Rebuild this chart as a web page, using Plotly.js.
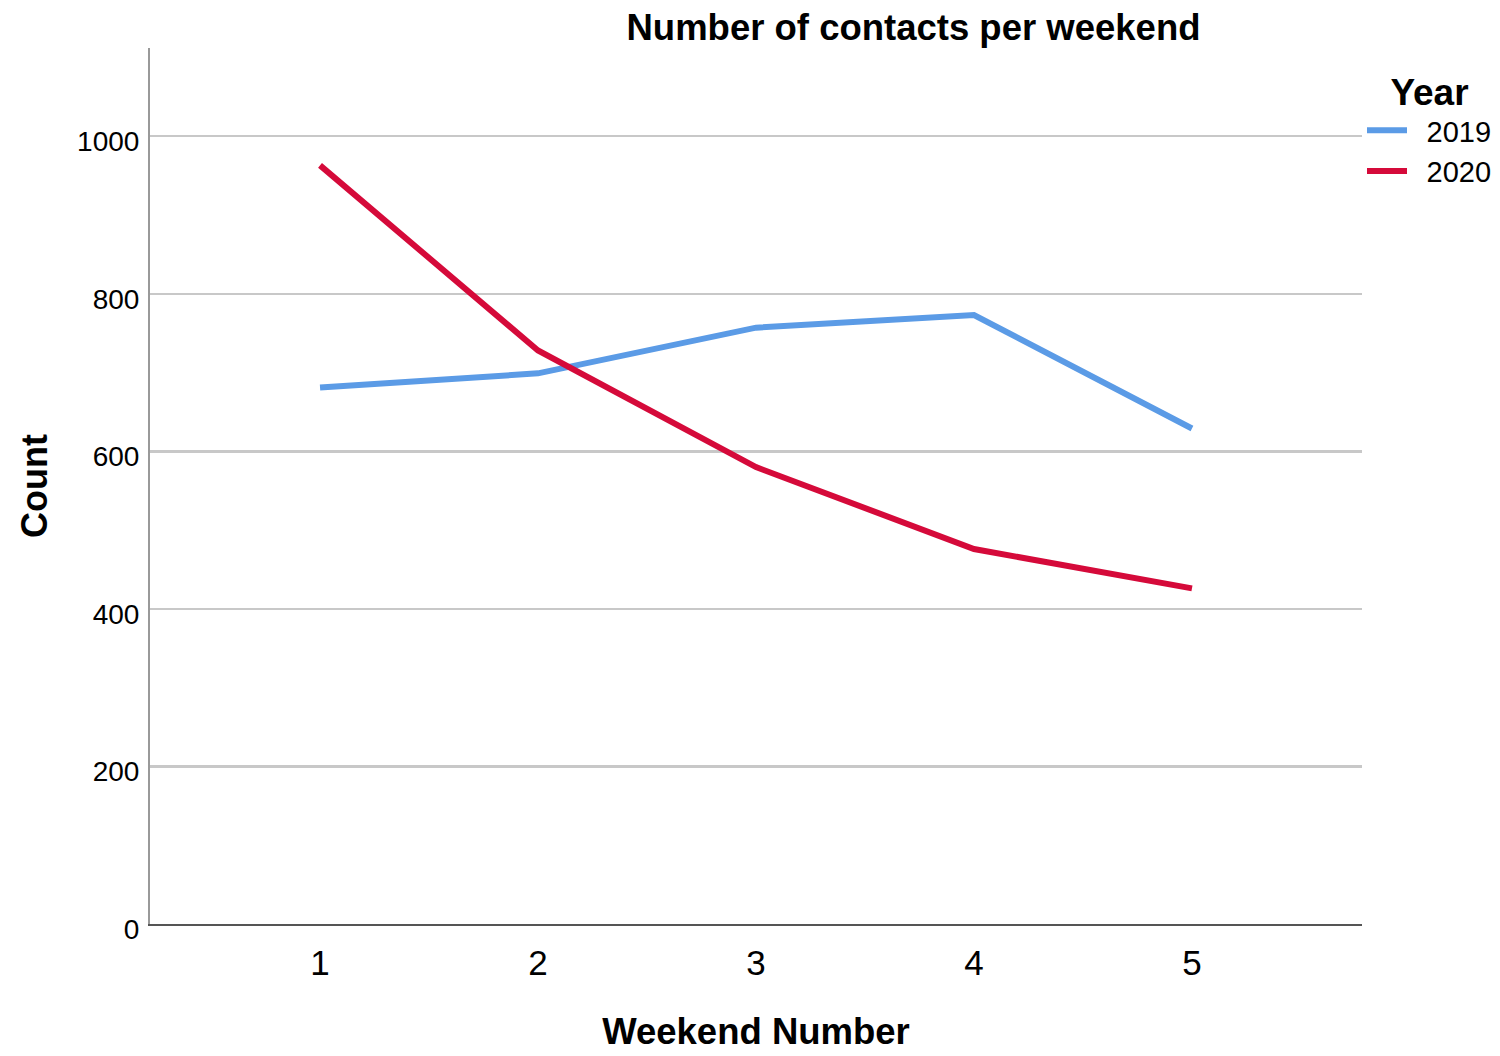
<!DOCTYPE html>
<html>
<head>
<meta charset="utf-8">
<script src="https://cdn.plot.ly/plotly-3.0.1.min.js"></script>
<style>
  html, body { margin: 0; padding: 0; background: #fff; }
  #chart { width: 1500px; height: 1056px; }
</style>
</head>
<body>
<div id="chart"></div>
<script>
// weekend numbers and counts
var weekends = [1, 2, 3, 4, 5];
var counts2019 = [681, 699, 757, 773, 629];
var counts2020 = [963, 728, 580, 476, 426];
var yTicks = [0, 200, 400, 600, 800, 1000];

var font = 'Liberation Sans, Arial, sans-serif';

var data = [
    {
        x: weekends, y: counts2019,
        mode: 'lines',
        name: '\u20022019',
        line: { color: '#5b9be6', width: 6 },
        type: 'scatter'
    },
    {
        x: weekends, y: counts2020,
        mode: 'lines',
        name: '\u20022020',
        line: { color: '#d50a3a', width: 6 },
        type: 'scatter'
    }
];

var layout = {
    width: 1500,
    height: 1056,
    paper_bgcolor: '#ffffff',
    plot_bgcolor: '#ffffff',
    font: { family: font, color: '#000' },
    margin: { l: 150, r: 138, t: 48, b: 132, autoexpand: false },
    title: {
        text: '<b>Number of contacts per weekend</b>',
        font: { size: 36.5, family: font },
        x: 0.609, xanchor: 'center',
        y: 0.974, yanchor: 'middle'
    },
    xaxis: {
        range: [0.22, 5.78],
        tickvals: weekends,
        ticktext: weekends.map(String),
        tickfont: { size: 35 },
        ticks: '',
        showgrid: false,
        zeroline: false,
        showline: true,
        linecolor: '#555',
        linewidth: 2,
        ticklabelstandoff: 7,
        title: { text: '<b>Weekend Number</b>', font: { size: 36.5 }, standoff: 37 }
    },
    yaxis: {
        range: [0, 1112],
        tickvals: yTicks,
        ticktext: yTicks.map(String),
        tickfont: { size: 28 },
        ticks: '',
        showgrid: true,
        gridcolor: '#c8c8c8',
        gridwidth: 2.5,
        zeroline: false,
        showline: true,
        linecolor: '#999',
        linewidth: 2,
        ticklabelstandoff: 3,
        ticklabelshift: 5,
        title: { text: '<b>Count</b>', font: { size: 36 }, standoff: 19 }
    },
    legend: {
        x: 1.0, xanchor: 'left',
        y: 0.99, yanchor: 'top',
        font: { size: 29 },
        title: { text: '<b>Year</b>', font: { size: 37 }, side: 'top center' },
        tracegroupgap: 0,
        itemwidth: 40
    },
    showlegend: true
};

Plotly.newPlot('chart', data, layout, { displayModeBar: false, staticPlot: true });
</script>
</body>
</html>
